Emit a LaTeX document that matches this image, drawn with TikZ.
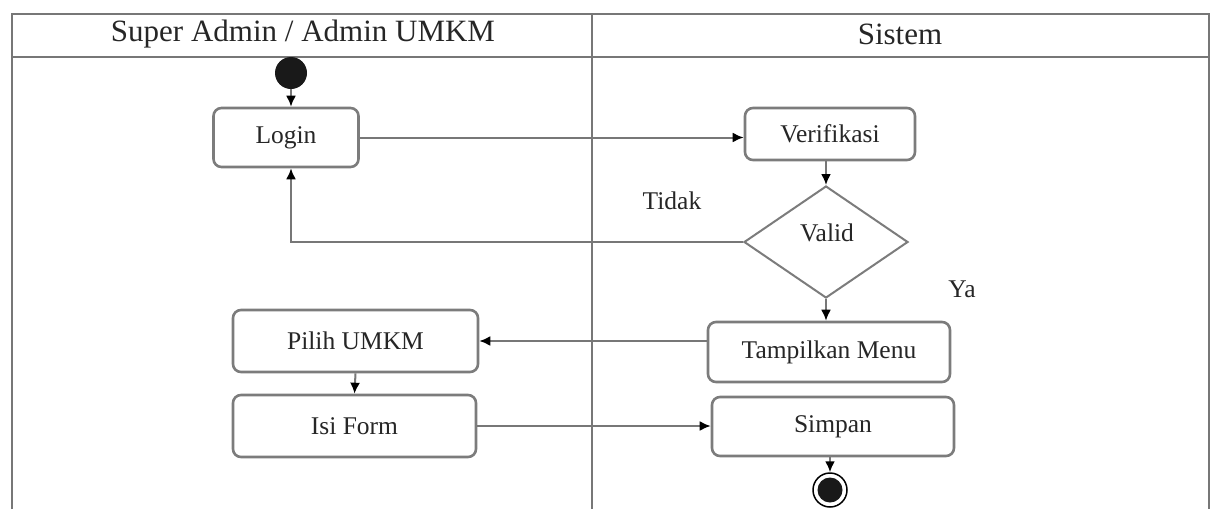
\documentclass[tikz,border=0pt]{standalone}
\usepackage{fontspec}
\setmainfont{Liberation Serif}
\usetikzlibrary{arrows.meta,shapes.geometric}
\definecolor{lane}{HTML}{777777}
\definecolor{edge}{HTML}{7C7C7C}
\definecolor{ink}{HTML}{262626}
\tikzset{
  act/.style={draw=edge, line width=2.6pt, rounded corners=8pt, fill=white,
    text=ink, font=\fontsize{25.5}{28}\selectfont, inner sep=0pt, align=center},
  dec/.style={draw=edge, line width=2pt, shape=diamond, fill=white, text=ink,
    inner sep=0pt, minimum width=164pt, minimum height=112pt},
  flow/.style={draw=lane, line width=2pt, -{Latex[length=11pt,width=10pt,color=black]}},
  lbl/.style={text=ink, font=\fontsize{25.5}{28}\selectfont},
  hdr/.style={text=ink, font=\fontsize{31}{34}\selectfont},
  swim/.style={draw=lane, line width=2.6pt}
}
\begin{document}
\begin{tikzpicture}[x=1pt,y=-1pt]
\useasboundingbox (0,0) rectangle (1218,509);
% swimlane frame
\draw[swim] (12,509) -- (12,14) -- (1209,14) -- (1209,509);
\draw[swim] (12,57) -- (1209,57);
\draw[swim] (592,14) -- (592,509);
\node[hdr] (hA) at (303,34) {Super Admin / Admin UMKM};
\node[hdr] (hB) at (900,34) {Sistem};
% nodes
\node[circle, fill=black!90, inner sep=0pt, minimum size=32pt] (start) at (291,73) {};
\node[act, minimum width=145pt, minimum height=59pt] (login) at (286,137.5) {Login};
\node[act, minimum width=170pt, minimum height=52pt] (verif) at (830,134) {Verifikasi};
\node[dec] (valid) at (826,242) {};
\node[lbl] (validt) at (827,233) {Valid};
\node[act, minimum width=242pt, minimum height=60pt] (tampil) at (829,352) {Tampilkan Menu};
\node[act, minimum width=245pt, minimum height=62pt] (pilih) at (355.5,341) {Pilih UMKM};
\node[act, minimum width=243pt, minimum height=62pt] (isi) at (354.5,426) {Isi Form};
\node[act, minimum width=242pt, minimum height=59pt] (simpan) at (833,426.5) {Simpan};
\node[circle, draw=black, line width=1.5pt, fill=white, inner sep=0pt, minimum size=34pt] (end) at (830,490) {};
\node[circle, fill=black!90, inner sep=0pt, minimum size=25pt] (endin) at (end.center) {};
\node[lbl] (tidak) at (672,201) {Tidak};
\node[lbl] (ya) at (962,289) {Ya};
% connectors
\draw[flow] (start.south) -- (start.south |- login.north);
\draw[flow] (login.east) -- (login.east -| verif.west);
\draw[flow] (valid.north |- verif.south) -- (valid.north);
\draw[flow] (valid.west) -| (start.south |- login.south);
\draw[flow] (valid.south) -- (valid.south |- tampil.north);
\draw[flow] (tampil.west |- pilih.east) -- (pilih.east);
\draw[flow] (pilih.south) -- (isi.north);
\draw[flow] (isi.east) -- (isi.east -| simpan.west);
\draw[flow] (simpan.south -| end.north) -- (end.north);
\end{tikzpicture}
\end{document}
